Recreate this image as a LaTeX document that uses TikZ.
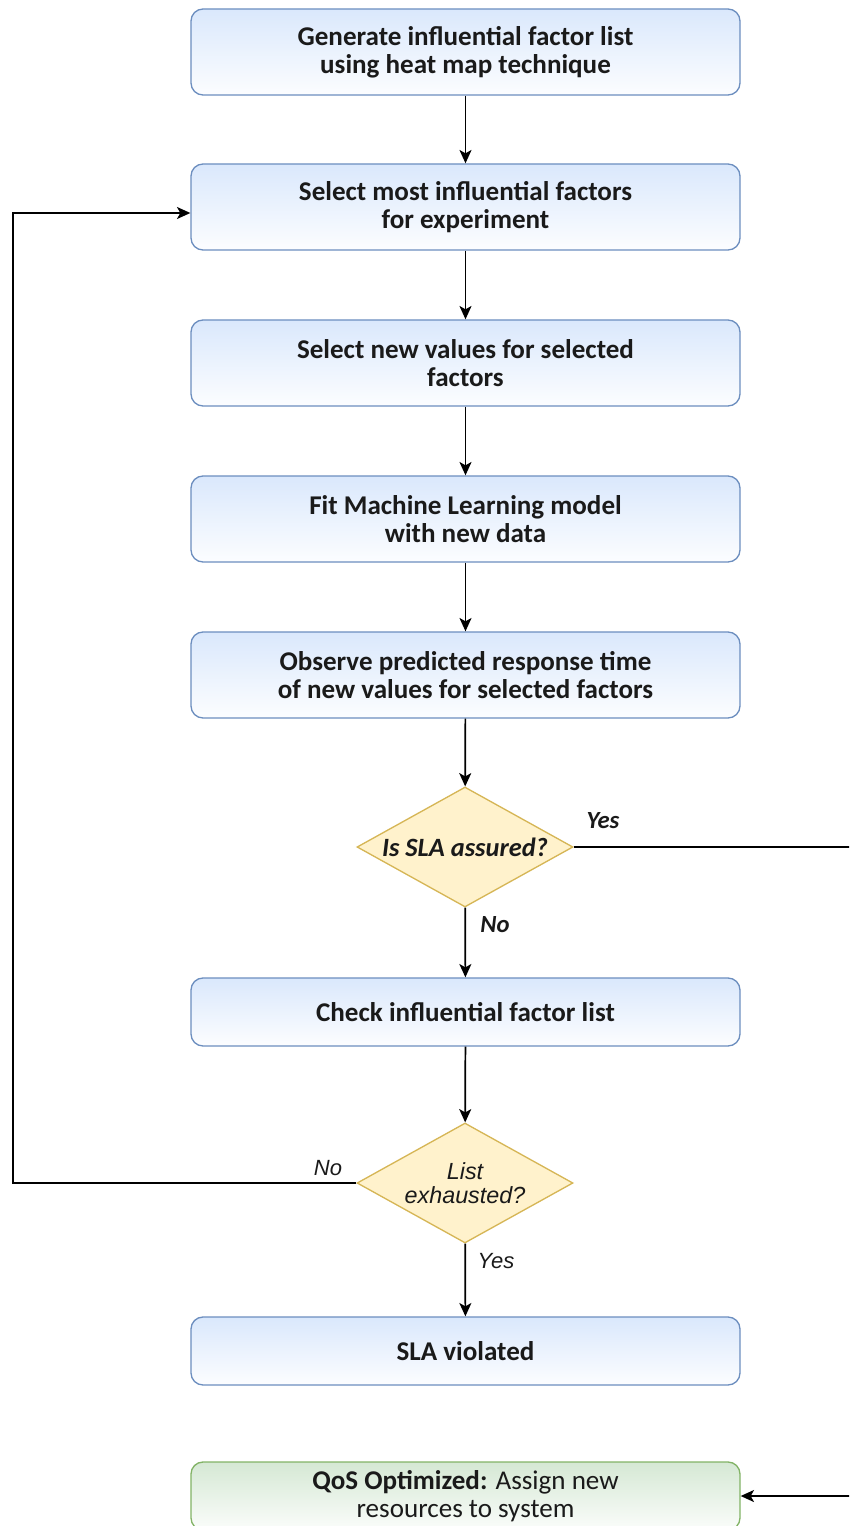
\documentclass[tikz,border=0pt]{standalone}
\usepackage{fontspec}
\setmainfont{Carlito}
\newfontfamily\arialfont{Liberation Sans}
\usetikzlibrary{shapes.geometric,arrows.meta,calc}
\definecolor{bluefill}{HTML}{DAE8FC}
\definecolor{blueline}{HTML}{6C8EBF}
\definecolor{yellowfill}{HTML}{FFF2CC}
\definecolor{yellowline}{HTML}{D6B656}
\definecolor{greenfill}{HTML}{D5E8D4}
\definecolor{greenline}{HTML}{82B366}
\definecolor{ink}{HTML}{1A1A1A}
\tikzset{
  stepbox/.style={rectangle, rounded corners=9pt, draw=blueline, line width=1pt,
    top color=bluefill, bottom color=bluefill!8, minimum width=411.75pt,
    minimum height=64.5pt, align=center, text=ink,
    font=\fontsize{20.3pt}{21pt}\selectfont\bfseries},
  onebox/.style={stepbox, minimum height=51pt},
  endbox/.style={stepbox, minimum height=51pt, draw=greenline,
    top color=greenfill, bottom color=greenfill!10},
  decision/.style={diamond, draw=yellowline, fill=yellowfill, line width=1pt,
    aspect=1.8, inner sep=0pt, minimum width=162pt, minimum height=90pt},
  flow/.style={draw=black, line width=1.3pt,
    -{Stealth[length=10pt, width=9pt, inset=2.5pt]}},
  lblA/.style={text=ink, font=\fontsize{18.5pt}{20pt}\selectfont\bfseries\itshape},
  lblB/.style={text=ink, font=\arialfont\fontsize{16.5pt}{18pt}\selectfont\itshape},
}
\begin{document}
\begin{tikzpicture}[x=0.75pt, y=-0.75pt]
  \useasboundingbox (0,0) rectangle (849,1526);
  \clip (0,0) rectangle (849,1526);

  % process steps
  \node[stepbox] (b1) at (465.5, 52) {Generate influential factor list\\using heat map technique};
  \node[stepbox] (b2) at (465.5, 207) {Select most influential factors\\for experiment};
  \node[stepbox] (b3) at (465.5, 363) {Select new values for selected\\factors};
  \node[stepbox] (b4) at (465.5, 519) {Fit Machine Learning model\\with new data};
  \node[stepbox] (b5) at (465.5, 675) {Observe predicted response time\\of new values for selected factors};

  % first decision
  \node[decision] (d1) at (465, 847) {};
  \node[lblA, font=\fontsize{19.8pt}{20pt}\selectfont\bfseries\itshape] (d1t) at (d1.center) {Is SLA assured?};

  \node[onebox] (b6) at (465.5, 1012) {Check influential factor list};

  % second decision
  \node[decision] (d2) at (465, 1183) {};
  \node[lblB, align=center, font=\arialfont\fontsize{17.5pt}{18pt}\selectfont\itshape] (d2t) at (d2.center) {List\\exhausted?};

  \node[onebox] (b7) at (465.5, 1351) {SLA violated};
  \node[endbox] (g) at (465.5, 1496) {QoS Optimized: \mdseries Assign new\\\mdseries resources to system};

  % connectors
  \draw[flow] (b1) -- (b2);
  \draw[flow] (b2) -- (b3);
  \draw[flow] (b3) -- (b4);
  \draw[flow] (b4) -- (b5);
  \draw[flow] (b5) -- (d1);
  \draw[flow] (d1) -- (b6);
  \draw[flow] (b6) -- (d2);
  \draw[flow] (d2) -- (b7);

  \coordinate (yr) at (900, 847);
  \draw[flow] (d1.east) -- (yr) |- (g.east);

  \coordinate (lp) at (13, 1183);
  \draw[flow] (d2.west) -- (lp) |- ($(b2.west)+(0,6)$);

  % branch labels
  \node[lblA] (ly1) at (603, 821) {Yes};
  \node[lblA] (ln1) at (495, 925) {No};
  \node[lblB] (ln2) at (328, 1168) {No};
  \node[lblB] (ly2) at (496, 1261) {Yes};
\end{tikzpicture}
\end{document}
